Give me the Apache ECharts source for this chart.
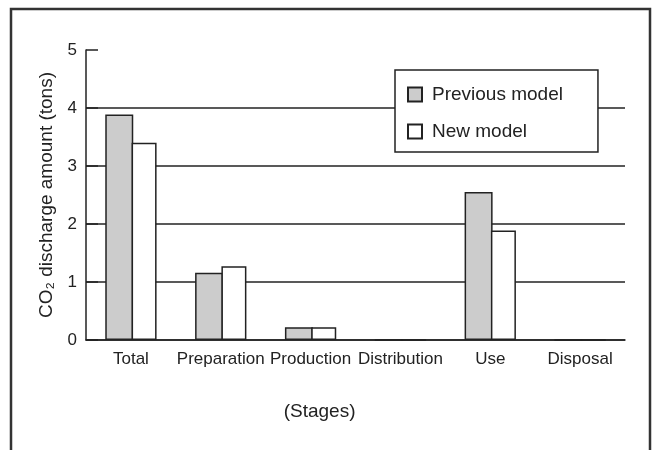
<!DOCTYPE html>
<html>
<head>
<meta charset="utf-8">
<script src="https://cdn.jsdelivr.net/npm/echarts@6/dist/echarts.min.js"></script>
<style>
  html, body { margin: 0; padding: 0; background: #fff; }
  #chart { width: 652px; height: 450px; }
</style>
</head>
<body>
<div id="chart"></div>
<script>
// data
var stages = ['Total', 'Preparation', 'Production', 'Distribution', 'Use', 'Disposal'];
var previousModel = [3.89, 1.16, 0.22, 0, 2.55, 0];
var newModel = [3.40, 1.27, 0.22, 0, 1.89, 0];
var yTicks = [0, 1, 2, 3, 4, 5];

var font = "'Liberation Sans', Arial, sans-serif";
var ink = '#222';

var chart = echarts.init(document.getElementById('chart'));

var option = {
    backgroundColor: '#fff',
    animation: false,
    textStyle: { fontFamily: font, color: ink },
    // outer frame (no bottom edge in the picture)
    graphic: [{
        type: 'rect',
        shape: { x: 11, y: 9, width: 639, height: 470 },
        style: { fill: 'none', stroke: '#333', lineWidth: 2.5 },
        silent: true
    }],
    grid: { left: 86, right: 27, top: 50, bottom: 110 },
    legend: {
        orient: 'vertical',
        left: 395,
        top: 70,
        padding: [15, 35, 11, 12],
        itemGap: 18,
        itemWidth: 14,
        itemHeight: 14,
        icon: 'rect',
        borderColor: ink,
        borderWidth: 1.5,
        backgroundColor: '#fff',
        textStyle: { fontFamily: font, fontSize: 19, color: ink, padding: [0, 0, 0, 5] },
        data: ['Previous model', 'New model']
    },
    xAxis: {
        type: 'category',
        data: stages,
        name: '(Stages)',
        nameLocation: 'middle',
        nameGap: 62,
        nameTextStyle: { fontFamily: font, fontSize: 19, color: ink, align: 'right' },
        axisLine: { lineStyle: { color: ink, width: 1.5 } },
        axisTick: { inside: true, length: 5, lineStyle: { color: ink, width: 1.5 } },
        axisLabel: { interval: 0, fontFamily: font, fontSize: 17, color: ink, margin: 11 }
    },
    yAxis: {
        type: 'value',
        min: yTicks[0],
        max: yTicks[yTicks.length - 1],
        interval: 1,
        name: 'CO\u2082 discharge amount (tons)',
        nameLocation: 'middle',
        nameGap: 30,
        nameTextStyle: { fontFamily: font, fontSize: 19, color: ink },
        axisLine: { show: true, lineStyle: { color: ink, width: 1.5 } },
        axisTick: { show: true, inside: true, length: 12, lineStyle: { color: ink, width: 1.5 } },
        axisLabel: { fontFamily: font, fontSize: 17, color: ink, margin: 9 },
        splitLine: { show: true, showMaxLine: false, lineStyle: { color: ink, width: 1.5 } }
    },
    series: [
        {
            name: 'Previous model',
            type: 'bar',
            data: previousModel,
            barWidth: 28,
            barGap: '-6%',
            itemStyle: { color: '#cccccc', borderColor: ink, borderWidth: 1.5 }
        },
        {
            name: 'New model',
            type: 'bar',
            data: newModel,
            barWidth: 25,
            barGap: '-6%',
            itemStyle: { color: '#ffffff', borderColor: ink, borderWidth: 1.5 }
        }
    ]
};

chart.setOption(option);
</script>
</body>
</html>
